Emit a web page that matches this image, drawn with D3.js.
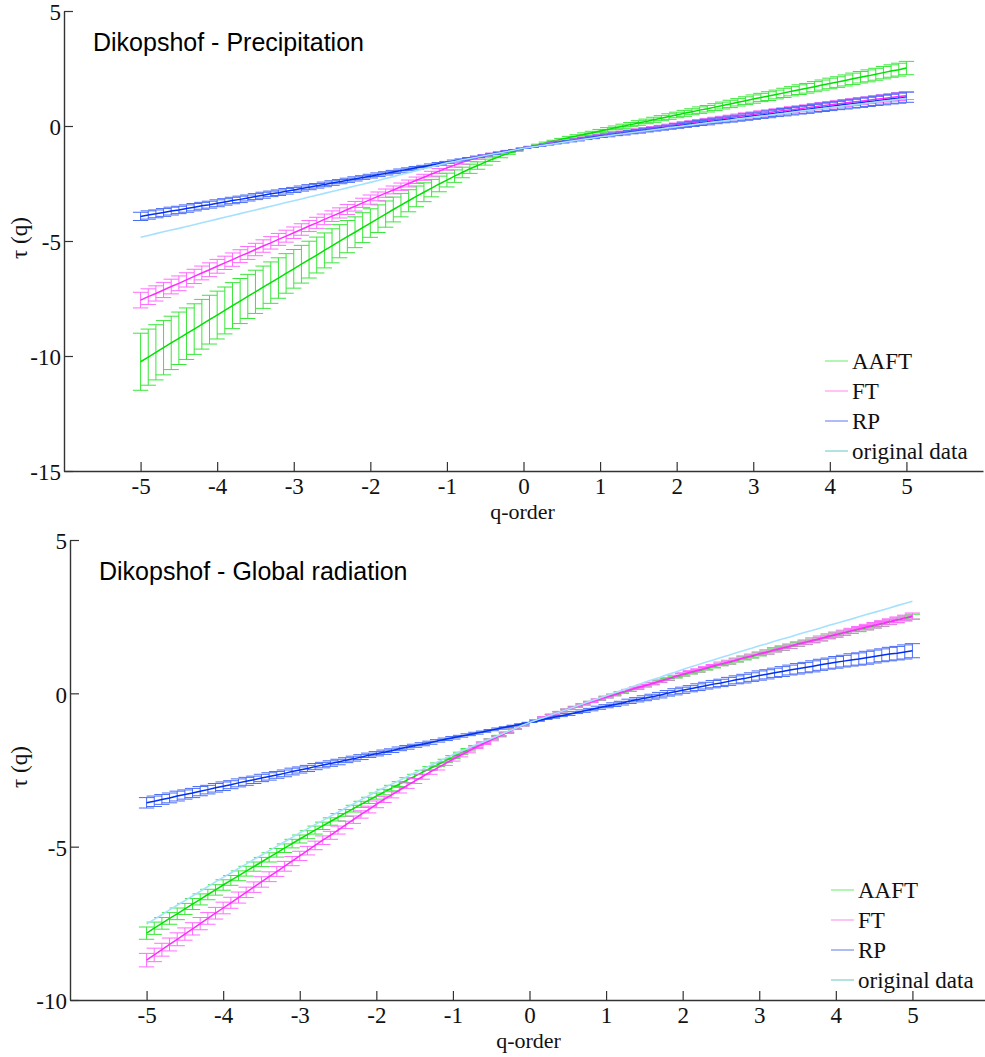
<!DOCTYPE html>
<html>
<head>
<meta charset="utf-8">
<script src="https://cdn.jsdelivr.net/npm/d3@7"></script>
<style>
  body { margin: 0; background: #fff; }
  svg { display: block; }
</style>
</head>
<body>
<svg id="chart" width="985" height="1057"></svg>
<script>
// q-order grid
const qOrder = [
  -5.0,-4.9,-4.8,-4.7,-4.6,-4.5,-4.4,-4.3,-4.2,-4.1,
  -4.0,-3.9,-3.8,-3.7,-3.6,-3.5,-3.4,-3.3,-3.2,-3.1,
  -3.0,-2.9,-2.8,-2.7,-2.6,-2.5,-2.4,-2.3,-2.2,-2.1,
  -2.0,-1.9,-1.8,-1.7,-1.6,-1.5,-1.4,-1.3,-1.2,-1.1,
  -1.0,-0.9,-0.8,-0.7,-0.6,-0.5,-0.4,-0.3,-0.2,-0.1,
  0.0,0.1,0.2,0.3,0.4,0.5,0.6,0.7,0.8,0.9,
  1.0,1.1,1.2,1.3,1.4,1.5,1.6,1.7,1.8,1.9,
  2.0,2.1,2.2,2.3,2.4,2.5,2.6,2.7,2.8,2.9,
  3.0,3.1,3.2,3.3,3.4,3.5,3.6,3.7,3.8,3.9,
  4.0,4.1,4.2,4.3,4.4,4.5,4.6,4.7,4.8,4.9,
  5.0
];

const seriesNames = ["AAFT", "FT", "RP", "original data"];
const xTickValues = [-5, -4, -3, -2, -1, 0, 1, 2, 3, 4, 5];
const precipYTicks = [5, 0, -5, -10, -15];
const radYTicks = [5, 0, -5, -10];

// ---- Dikopshof - Precipitation: tau(q) ----
const precipAAFT = [
  -10.25,-10.05,-9.84,-9.64,-9.43,-9.23,-9.03,-8.83,-8.62,-8.42,
  -8.22,-8.02,-7.81,-7.61,-7.41,-7.21,-7.01,-6.81,-6.61,-6.41,
  -6.21,-6.01,-5.81,-5.61,-5.41,-5.21,-5.01,-4.81,-4.62,-4.42,
  -4.22,-4.03,-3.83,-3.63,-3.44,-3.25,-3.06,-2.88,-2.70,-2.52,
  -2.35,-2.18,-2.02,-1.86,-1.72,-1.57,-1.44,-1.31,-1.19,-1.08,
  -0.97,-0.89,-0.81,-0.73,-0.65,-0.58,-0.50,-0.43,-0.36,-0.29,
  -0.22,-0.15,-0.08,-0.01,0.06,0.13,0.20,0.27,0.34,0.41,
  0.48,0.55,0.62,0.69,0.75,0.82,0.89,0.96,1.03,1.10,
  1.17,1.24,1.30,1.37,1.44,1.51,1.58,1.64,1.71,1.78,
  1.85,1.91,1.98,2.05,2.12,2.18,2.25,2.32,2.39,2.45,
  2.52
];
const precipAAFTErr = [
  1.24,1.22,1.20,1.18,1.16,1.14,1.12,1.10,1.08,1.06,
  1.04,1.02,1.00,0.98,0.96,0.94,0.92,0.90,0.88,0.86,
  0.84,0.82,0.80,0.78,0.76,0.74,0.72,0.70,0.67,0.65,
  0.62,0.60,0.57,0.54,0.51,0.48,0.45,0.41,0.38,0.34,
  0.30,0.27,0.23,0.20,0.16,0.13,0.10,0.07,0.04,0.02,
  0.00,0.01,0.02,0.03,0.03,0.04,0.05,0.05,0.06,0.06,
  0.07,0.08,0.08,0.09,0.09,0.10,0.10,0.11,0.11,0.12,
  0.12,0.13,0.13,0.14,0.14,0.15,0.15,0.16,0.16,0.17,
  0.18,0.18,0.19,0.19,0.20,0.20,0.21,0.21,0.22,0.22,
  0.23,0.23,0.24,0.25,0.25,0.26,0.26,0.27,0.27,0.28,
  0.29
];
const precipFT = [
  -7.57,-7.42,-7.28,-7.13,-6.98,-6.84,-6.69,-6.54,-6.39,-6.25,
  -6.10,-5.95,-5.81,-5.66,-5.52,-5.37,-5.22,-5.08,-4.93,-4.79,
  -4.64,-4.50,-4.35,-4.21,-4.06,-3.92,-3.78,-3.63,-3.49,-3.34,
  -3.20,-3.06,-2.92,-2.78,-2.64,-2.50,-2.36,-2.23,-2.09,-1.96,
  -1.82,-1.70,-1.58,-1.47,-1.38,-1.30,-1.22,-1.15,-1.08,-1.03,
  -0.97,-0.91,-0.85,-0.79,-0.74,-0.68,-0.63,-0.57,-0.52,-0.47,
  -0.42,-0.37,-0.33,-0.28,-0.23,-0.19,-0.14,-0.09,-0.05,0.00,
  0.05,0.10,0.14,0.19,0.23,0.28,0.32,0.37,0.41,0.46,
  0.50,0.54,0.58,0.63,0.67,0.71,0.75,0.79,0.84,0.88,
  0.92,0.96,1.00,1.04,1.08,1.12,1.16,1.20,1.24,1.28,
  1.32
];
const precipFTErr = [
  0.34,0.34,0.33,0.33,0.32,0.32,0.31,0.31,0.30,0.30,
  0.30,0.29,0.29,0.28,0.28,0.27,0.27,0.27,0.26,0.26,
  0.25,0.25,0.24,0.24,0.23,0.23,0.22,0.22,0.21,0.20,
  0.20,0.19,0.18,0.17,0.16,0.15,0.14,0.13,0.12,0.11,
  0.10,0.09,0.08,0.07,0.06,0.05,0.04,0.03,0.02,0.01,
  0.00,0.01,0.01,0.02,0.02,0.03,0.03,0.04,0.04,0.05,
  0.05,0.05,0.06,0.06,0.06,0.07,0.07,0.07,0.08,0.08,
  0.08,0.09,0.09,0.09,0.10,0.10,0.10,0.10,0.11,0.11,
  0.11,0.12,0.12,0.12,0.12,0.13,0.13,0.13,0.14,0.14,
  0.14,0.14,0.15,0.15,0.15,0.15,0.16,0.16,0.16,0.17,
  0.17
];
const precipRP = [
  -3.93,-3.87,-3.82,-3.76,-3.70,-3.65,-3.59,-3.53,-3.47,-3.42,
  -3.36,-3.30,-3.24,-3.19,-3.13,-3.07,-3.01,-2.95,-2.90,-2.84,
  -2.78,-2.72,-2.66,-2.60,-2.54,-2.48,-2.42,-2.36,-2.30,-2.24,
  -2.18,-2.12,-2.06,-2.00,-1.94,-1.88,-1.82,-1.76,-1.70,-1.64,
  -1.58,-1.52,-1.46,-1.40,-1.34,-1.28,-1.21,-1.15,-1.09,-1.03,
  -0.97,-0.92,-0.87,-0.81,-0.76,-0.71,-0.66,-0.61,-0.55,-0.50,
  -0.45,-0.41,-0.36,-0.32,-0.27,-0.23,-0.18,-0.14,-0.09,-0.05,
  0.00,0.04,0.09,0.13,0.17,0.22,0.26,0.30,0.34,0.39,
  0.43,0.47,0.51,0.56,0.60,0.64,0.68,0.72,0.77,0.81,
  0.85,0.89,0.93,0.97,1.01,1.05,1.09,1.13,1.17,1.21,
  1.25
];
const precipRPErr = [
  0.18,0.18,0.17,0.17,0.17,0.16,0.16,0.16,0.15,0.15,
  0.15,0.14,0.14,0.14,0.13,0.13,0.13,0.12,0.12,0.12,
  0.11,0.11,0.11,0.10,0.10,0.10,0.09,0.09,0.09,0.08,
  0.08,0.08,0.07,0.07,0.07,0.06,0.06,0.05,0.05,0.05,
  0.04,0.04,0.03,0.03,0.03,0.02,0.02,0.01,0.01,0.00,
  0.00,0.01,0.01,0.02,0.02,0.03,0.03,0.04,0.04,0.05,
  0.05,0.06,0.06,0.07,0.07,0.08,0.08,0.08,0.09,0.09,
  0.10,0.10,0.11,0.11,0.12,0.12,0.12,0.13,0.13,0.14,
  0.14,0.14,0.15,0.15,0.16,0.16,0.16,0.17,0.17,0.18,
  0.18,0.18,0.19,0.19,0.20,0.20,0.20,0.21,0.21,0.22,
  0.22
];
const precipOriginal = [
  -4.84,-4.76,-4.68,-4.60,-4.52,-4.45,-4.37,-4.29,-4.21,-4.13,
  -4.05,-3.97,-3.89,-3.81,-3.73,-3.65,-3.57,-3.49,-3.41,-3.33,
  -3.25,-3.17,-3.09,-3.01,-2.93,-2.85,-2.77,-2.69,-2.61,-2.53,
  -2.45,-2.37,-2.28,-2.20,-2.11,-2.03,-1.94,-1.86,-1.77,-1.69,
  -1.60,-1.54,-1.47,-1.41,-1.35,-1.28,-1.22,-1.16,-1.10,-1.03,
  -0.97,-0.92,-0.87,-0.82,-0.77,-0.72,-0.67,-0.62,-0.57,-0.52,
  -0.47,-0.43,-0.38,-0.34,-0.29,-0.25,-0.21,-0.16,-0.12,-0.07,
  -0.03,0.01,0.05,0.10,0.14,0.18,0.22,0.26,0.31,0.35,
  0.39,0.43,0.47,0.51,0.55,0.60,0.64,0.68,0.72,0.76,
  0.80,0.84,0.88,0.92,0.96,1.00,1.04,1.08,1.12,1.16,
  1.20
];

// ---- Dikopshof - Global radiation: tau(q) ----
const radAAFT = [
  -7.82,-7.66,-7.50,-7.34,-7.19,-7.03,-6.87,-6.72,-6.56,-6.41,
  -6.25,-6.10,-5.95,-5.80,-5.65,-5.50,-5.35,-5.20,-5.05,-4.90,
  -4.75,-4.61,-4.46,-4.32,-4.18,-4.04,-3.90,-3.76,-3.62,-3.49,
  -3.35,-3.22,-3.09,-2.96,-2.83,-2.71,-2.58,-2.45,-2.33,-2.20,
  -2.08,-1.96,-1.84,-1.73,-1.61,-1.50,-1.39,-1.27,-1.16,-1.06,
  -0.95,-0.86,-0.77,-0.69,-0.60,-0.52,-0.44,-0.36,-0.28,-0.21,
  -0.13,-0.06,0.02,0.09,0.16,0.24,0.31,0.38,0.45,0.53,
  0.60,0.67,0.73,0.80,0.87,0.94,1.00,1.07,1.14,1.20,
  1.27,1.33,1.40,1.46,1.52,1.59,1.65,1.71,1.77,1.84,
  1.90,1.96,2.02,2.08,2.14,2.20,2.26,2.32,2.38,2.44,
  2.50
];
const radAAFTErr = [
  0.20,0.20,0.19,0.19,0.19,0.18,0.18,0.18,0.17,0.17,
  0.17,0.16,0.16,0.16,0.15,0.15,0.15,0.14,0.14,0.14,
  0.13,0.13,0.13,0.12,0.12,0.12,0.11,0.11,0.10,0.10,
  0.10,0.09,0.09,0.08,0.08,0.07,0.07,0.06,0.06,0.05,
  0.05,0.04,0.04,0.03,0.03,0.02,0.02,0.01,0.01,0.00,
  0.00,0.00,0.01,0.01,0.01,0.01,0.01,0.02,0.02,0.02,
  0.02,0.02,0.02,0.03,0.03,0.03,0.03,0.03,0.03,0.03,
  0.04,0.04,0.04,0.04,0.04,0.04,0.05,0.05,0.05,0.05,
  0.05,0.05,0.05,0.06,0.06,0.06,0.06,0.06,0.06,0.06,
  0.07,0.07,0.07,0.07,0.07,0.07,0.08,0.08,0.08,0.08,
  0.08
];
const radFT = [
  -8.70,-8.53,-8.36,-8.19,-8.02,-7.85,-7.68,-7.51,-7.34,-7.17,
  -7.00,-6.83,-6.66,-6.49,-6.32,-6.15,-5.98,-5.81,-5.64,-5.47,
  -5.30,-5.13,-4.96,-4.79,-4.63,-4.46,-4.29,-4.12,-3.95,-3.79,
  -3.62,-3.46,-3.31,-3.16,-3.01,-2.86,-2.72,-2.57,-2.43,-2.29,
  -2.15,-2.02,-1.89,-1.76,-1.64,-1.52,-1.40,-1.29,-1.17,-1.06,
  -0.95,-0.86,-0.77,-0.69,-0.60,-0.52,-0.44,-0.36,-0.28,-0.20,
  -0.12,-0.05,0.03,0.10,0.18,0.25,0.32,0.40,0.47,0.55,
  0.62,0.69,0.75,0.82,0.89,0.96,1.02,1.09,1.16,1.22,
  1.29,1.35,1.42,1.48,1.54,1.61,1.67,1.73,1.79,1.86,
  1.92,1.98,2.04,2.10,2.16,2.22,2.28,2.34,2.40,2.46,
  2.52
];
const radFTErr = [
  0.22,0.22,0.21,0.21,0.21,0.20,0.20,0.20,0.19,0.19,
  0.19,0.18,0.18,0.17,0.17,0.17,0.16,0.16,0.16,0.15,
  0.15,0.14,0.14,0.14,0.13,0.13,0.12,0.12,0.12,0.11,
  0.11,0.10,0.10,0.09,0.09,0.08,0.08,0.07,0.07,0.06,
  0.06,0.05,0.05,0.04,0.03,0.03,0.02,0.02,0.01,0.00,
  0.00,0.00,0.01,0.01,0.01,0.01,0.02,0.02,0.02,0.02,
  0.03,0.03,0.03,0.03,0.03,0.04,0.04,0.04,0.04,0.04,
  0.05,0.05,0.05,0.05,0.05,0.06,0.06,0.06,0.06,0.06,
  0.06,0.07,0.07,0.07,0.07,0.07,0.07,0.08,0.08,0.08,
  0.08,0.08,0.08,0.08,0.09,0.09,0.09,0.09,0.09,0.09,
  0.10
];
const radRP = [
  -3.57,-3.52,-3.46,-3.41,-3.35,-3.30,-3.25,-3.19,-3.14,-3.08,
  -3.03,-2.98,-2.92,-2.87,-2.82,-2.76,-2.71,-2.66,-2.61,-2.55,
  -2.50,-2.45,-2.39,-2.34,-2.29,-2.24,-2.18,-2.13,-2.08,-2.02,
  -1.97,-1.92,-1.87,-1.81,-1.76,-1.71,-1.66,-1.61,-1.55,-1.50,
  -1.45,-1.40,-1.35,-1.30,-1.25,-1.20,-1.15,-1.10,-1.05,-1.00,
  -0.95,-0.90,-0.84,-0.79,-0.74,-0.69,-0.63,-0.58,-0.53,-0.47,
  -0.42,-0.37,-0.32,-0.26,-0.21,-0.16,-0.11,-0.06,0.00,0.05,
  0.10,0.15,0.20,0.25,0.30,0.34,0.39,0.44,0.48,0.53,
  0.58,0.62,0.67,0.71,0.76,0.80,0.84,0.88,0.93,0.97,
  1.01,1.05,1.09,1.12,1.16,1.20,1.24,1.28,1.31,1.35,
  1.39
];
const radRPErr = [
  0.17,0.17,0.16,0.16,0.16,0.15,0.15,0.15,0.14,0.14,
  0.14,0.13,0.13,0.13,0.12,0.12,0.12,0.11,0.11,0.11,
  0.10,0.10,0.10,0.09,0.09,0.09,0.08,0.08,0.08,0.07,
  0.07,0.07,0.06,0.06,0.06,0.05,0.05,0.05,0.04,0.04,
  0.04,0.03,0.03,0.03,0.02,0.02,0.02,0.01,0.01,0.00,
  0.00,0.01,0.01,0.02,0.02,0.03,0.03,0.04,0.04,0.05,
  0.05,0.06,0.06,0.07,0.07,0.08,0.08,0.09,0.09,0.10,
  0.10,0.10,0.11,0.11,0.12,0.12,0.13,0.13,0.14,0.14,
  0.15,0.15,0.15,0.16,0.16,0.17,0.17,0.18,0.18,0.18,
  0.19,0.19,0.20,0.20,0.21,0.21,0.21,0.22,0.22,0.23,
  0.23
];
const radOriginal = [
  -7.52,-7.37,-7.22,-7.06,-6.91,-6.76,-6.61,-6.46,-6.30,-6.15,
  -6.00,-5.86,-5.71,-5.57,-5.42,-5.28,-5.13,-4.99,-4.84,-4.70,
  -4.55,-4.42,-4.28,-4.15,-4.01,-3.88,-3.74,-3.61,-3.47,-3.34,
  -3.20,-3.08,-2.96,-2.84,-2.72,-2.60,-2.48,-2.36,-2.24,-2.12,
  -2.00,-1.89,-1.79,-1.68,-1.58,-1.47,-1.37,-1.26,-1.16,-1.05,
  -0.95,-0.86,-0.78,-0.69,-0.60,-0.52,-0.43,-0.34,-0.25,-0.17,
  -0.08,0.01,0.09,0.18,0.26,0.35,0.44,0.52,0.61,0.69,
  0.78,0.86,0.93,1.01,1.09,1.17,1.24,1.32,1.40,1.47,
  1.55,1.62,1.70,1.77,1.84,1.92,1.99,2.06,2.13,2.21,
  2.28,2.35,2.42,2.50,2.57,2.64,2.71,2.78,2.86,2.93,
  3.00
];

// colours: line, error bar, legend swatch
const palette = {
  "AAFT":          { line: "#00e000", bar: "#3be63b", legend: "#80ee80" },
  "FT":            { line: "#ff2cff", bar: "#ff6cff", legend: "#ff9cf0" },
  "RP":            { line: "#0030f0", bar: "#4a6cf5", legend: "#7e8cf0" },
  "original data": { line: "#a6e0ff", bar: null,      legend: "#7fd0cc" }
};

const svg = d3.select("#chart");
const serif = "'Liberation Serif', 'Times New Roman', serif";
const sans = "'Liberation Sans', Arial, sans-serif";

function drawPanel(p) {
  const x = d3.scaleLinear().domain([-6, 6]).range([p.left, p.right]);
  const y = d3.scaleLinear().domain([p.yTicks[p.yTicks.length - 1], p.yTicks[0]]).range([p.bottom, p.top]);
  const g = svg.append("g");
  const capHalf = x(0.1) - x(0);

  p.series.forEach(s => {
    const c = palette[s.name];
    if (s.err) {
      const path = d3.path();
      qOrder.forEach((q, i) => {
        const cx = x(q);
        const hi = y(s.values[i] + s.err[i]);
        const lo = y(s.values[i] - s.err[i]);
        path.moveTo(cx, hi); path.lineTo(cx, lo);
        path.moveTo(cx - capHalf, hi); path.lineTo(cx + capHalf, hi);
        path.moveTo(cx - capHalf, lo); path.lineTo(cx + capHalf, lo);
      });
      g.append("path")
        .attr("d", path.toString())
        .attr("fill", "none")
        .attr("stroke", c.bar)
        .attr("stroke-width", 1);
    }
    g.append("path")
      .datum(s.values)
      .attr("d", d3.line().x((d, i) => x(qOrder[i])).y(d => y(d)))
      .attr("fill", "none")
      .attr("stroke", c.line)
      .attr("stroke-width", s.err ? 1.5 : 1.6);
  });

  // axes
  const xAxis = d3.axisBottom(x).tickValues(xTickValues).tickFormat(d => String(d))
    .tickSizeInner(-9).tickSizeOuter(0).tickPadding(7);
  const yAxis = d3.axisLeft(y).tickValues(p.yTicks).tickFormat(d => String(d))
    .tickSizeInner(-9).tickSizeOuter(0).tickPadding(3);

  const gx = g.append("g").attr("transform", `translate(0,${p.bottom})`).call(xAxis);
  const gy = g.append("g").attr("transform", `translate(${p.left},0)`).call(yAxis);
  [gx, gy].forEach(a => {
    a.attr("font-family", serif);
    a.select(".domain").attr("stroke", "#333").attr("stroke-width", 1.4);
    a.selectAll(".tick line").attr("stroke", "#333").attr("stroke-width", 1.2);
    a.selectAll(".tick text").attr("fill", "#111")
      .style("font-family", serif).style("font-size", "23px");
  });
  gy.selectAll(".tick text").attr("dy", "0.38em");

  // axis titles
  g.append("text")
    .attr("x", (p.left + p.right) / 2 - 1)
    .attr("y", p.bottom + 48)
    .attr("text-anchor", "middle")
    .style("font-family", serif).style("font-size", "22px").attr("fill", "#111")
    .text("q-order");
  g.append("text")
    .attr("transform", `translate(27,${(p.top + p.bottom) / 2 - 3}) rotate(-90)`)
    .attr("text-anchor", "middle")
    .style("font-family", serif).style("font-size", "23px").attr("fill", "#111")
    .text("τ (q)");

  // panel title
  g.append("text")
    .attr("x", p.left + 29)
    .attr("y", p.top + 40)
    .style("font-family", sans).style("font-size", "25px").attr("fill", "#000")
    .text(p.title);

  // legend
  const lg = g.append("g");
  seriesNames.forEach((name, i) => {
    const ly = p.bottom - 20 - (seriesNames.length - 1 - i) * 30;
    lg.append("line")
      .attr("x1", p.left + 761).attr("x2", p.left + 784)
      .attr("y1", ly).attr("y2", ly)
      .attr("stroke", palette[name].legend).attr("stroke-width", 1.2);
    lg.append("text")
      .attr("x", p.left + 788).attr("y", ly + 8)
      .style("font-family", serif).style("font-size", "23px").attr("fill", "#111")
      .text(name);
  });
}

drawPanel({
  title: "Dikopshof - Precipitation",
  left: 64, right: 983, top: 11, bottom: 471,
  yTicks: precipYTicks,
  series: [
    { name: "AAFT", values: precipAAFT, err: precipAAFTErr },
    { name: "FT", values: precipFT, err: precipFTErr },
    { name: "RP", values: precipRP, err: precipRPErr },
    { name: "original data", values: precipOriginal }
  ]
});

drawPanel({
  title: "Dikopshof - Global radiation",
  left: 70, right: 989, top: 540, bottom: 1000,
  yTicks: radYTicks,
  series: [
    { name: "AAFT", values: radAAFT, err: radAAFTErr },
    { name: "FT", values: radFT, err: radFTErr },
    { name: "RP", values: radRP, err: radRPErr },
    { name: "original data", values: radOriginal }
  ]
});
</script>
</body>
</html>
